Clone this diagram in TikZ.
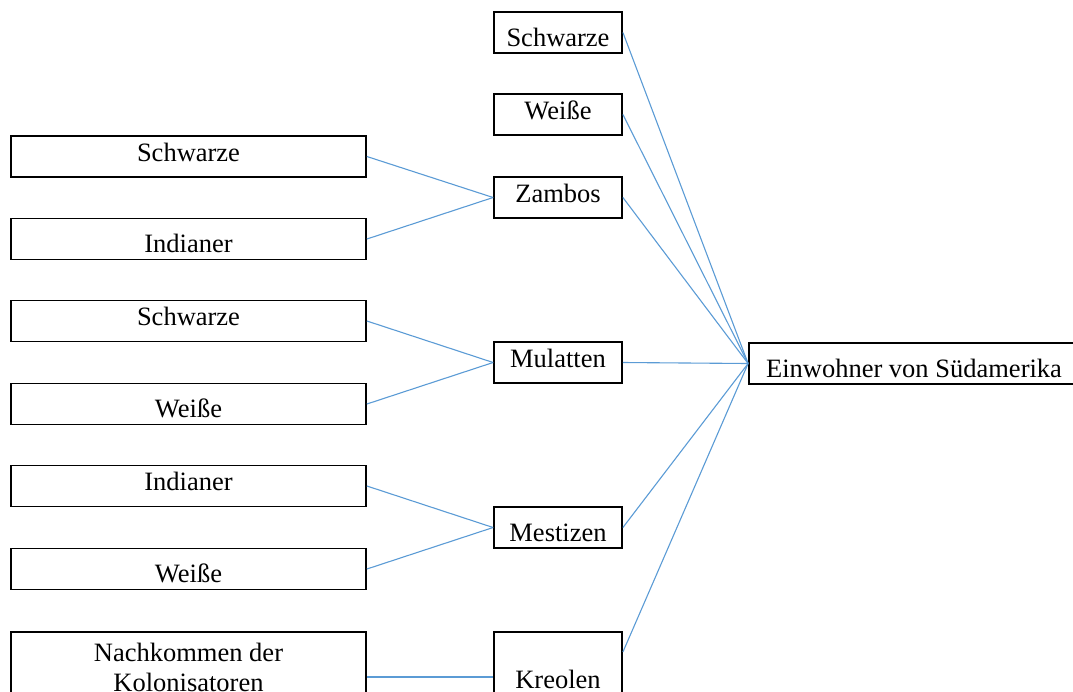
\documentclass[tikz,border=0pt]{standalone}
\usepackage{fontspec}
\setmainfont{Liberation Serif}
\usetikzlibrary{calc}
\tikzstyle{box} = [rectangle, draw=black, line width=1.8pt, inner ysep=0pt, font=\fontsize{26.5}{30}\selectfont]
\tikzstyle{wide} = [box, minimum width=355pt]
\tikzstyle{narrow} = [box, minimum width=128pt]
\tikzstyle{texttop} = [text height=25pt, text depth=16pt]
\tikzstyle{textbot} = [text height=34pt, text depth=7pt]
\tikzstyle{conn} = [draw={rgb,255:red,91;green,155;blue,213}, line width=1.1pt]

\begin{document}
\begin{tikzpicture}[x=1pt, y=-1pt]
    \useasboundingbox (0,0) rectangle (1073,691);
    % left column
    \node (schwarzeA)[wide, texttop] at (188.5,156.5) {Schwarze};
    \node (indianerA)[wide, textbot] at (188.5,239) {Indianer};
    \node (schwarzeB)[wide, texttop] at (188.5,321) {Schwarze};
    \node (weisseB)[wide, textbot] at (188.5,404) {Weiße};
    \node (indianerC)[wide, texttop] at (188.5,486) {Indianer};
    \node (weisseC)[wide, textbot] at (188.5,569) {Weiße};
    \node (nachkommen)[wide, minimum height=70pt, align=center] at (188.5,667) {Nachkommen der\\Kolonisatoren};
    % middle column
    \node (schwarze)[narrow, textbot] at (558,32.5) {Schwarze};
    \node (weisse)[narrow, texttop] at (558,114.5) {Weiße};
    \node (zambos)[narrow, texttop] at (558,197.5) {Zambos};
    \node (mulatten)[narrow, texttop] at (558,362.5) {Mulatten};
    \node (mestizen)[narrow, textbot] at (558,527.5) {Mestizen};
    \node (kreolen)[narrow, text height=56pt, text depth=14pt] at (558,667) {Kreolen};
    % right
    \node (einwohner)[box, textbot, minimum width=330pt] at (914,363.5) {Einwohner von Südamerika};

    \draw[conn] (schwarzeA.east) -- (zambos.west);
    \draw[conn] (indianerA.east) -- (zambos.west);
    \draw[conn] (schwarzeB.east) -- (mulatten.west);
    \draw[conn] (weisseB.east) -- (mulatten.west);
    \draw[conn] (indianerC.east) -- (mestizen.west);
    \draw[conn] (weisseC.east) -- (mestizen.west);
    \draw[conn] ([yshift=-10pt]nachkommen.east) -- ([yshift=-10pt]kreolen.west);

    \foreach \n in {schwarze, weisse, zambos, mulatten, mestizen}
        \draw[conn] (\n.east) -- (einwohner.west);
    \draw[conn] ([yshift=15pt]kreolen.east) -- (einwohner.west);

  \end{tikzpicture}
\end{document}
